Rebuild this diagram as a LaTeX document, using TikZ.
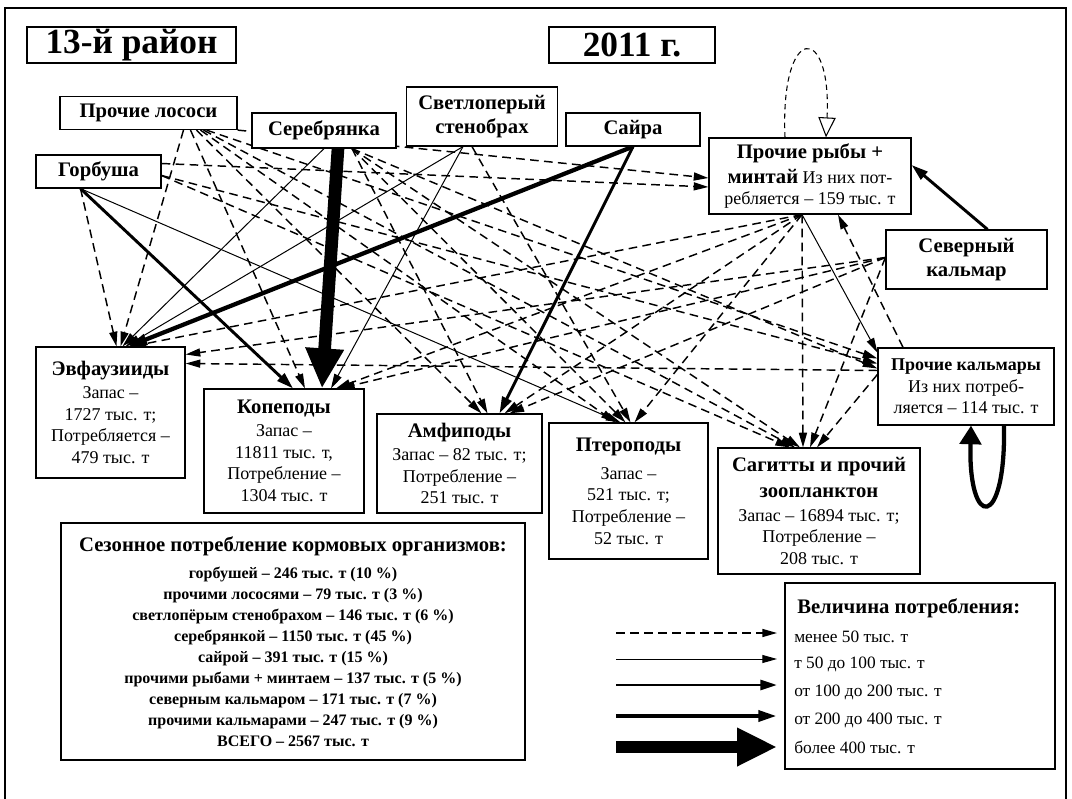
\documentclass[tikz,border=0pt]{standalone}
\usepackage{fontspec}
\setmainfont{Liberation Serif}
\usetikzlibrary{arrows.meta,calc,backgrounds}

\newlength{\pxu}
\setlength{\pxu}{0.75pt}
\newcommand{\hdfont}{\fontsize{26.5}{30}\selectfont\bfseries}
\newcommand{\nmfont}{\fontsize{15.5}{18}\selectfont\bfseries}
\newcommand{\bdfont}{\fontsize{13.5}{16.2}\selectfont}
\newcommand{\smfont}{\fontsize{12}{15.75}\selectfont\bfseries}
\newcommand{\kyfont}{\fontsize{13}{15}\selectfont}

\tikzset{
  box/.style={draw, line width=0.9pt, fill=white, align=center, inner sep=2pt},
  d50/.style={dash pattern=on 6.5pt off 4pt, line width=1.1pt, -{Triangle[length=11pt,width=6pt]}},
  s100/.style={line width=0.75pt, -{Triangle[length=11pt,width=6pt]}},
  s200/.style={line width=2.2pt, -{Triangle[length=12.5pt,width=7.5pt]}},
  s400/.style={line width=3.2pt, -{Triangle[length=14pt,width=8pt]}},
  s800/.style={line width=9.5pt, -{Triangle[length=30pt,width=27pt]}},
  selfloop/.style={dash pattern=on 4pt off 3pt, line width=0.8pt, -{Triangle[open,length=15pt,width=13pt]}},
  bigloop/.style={line width=3.2pt, -{Triangle[length=14pt,width=16pt]}},
}

\begin{document}
\begin{tikzpicture}[x=0.75pt,y=-0.75pt]
\useasboundingbox (0,0) rectangle (1072,799);
\clip (0,0) rectangle (1072,799);

% frame
\draw[line width=0.8pt] (5,805) -- (5,8) -- (1066,8) -- (1066,805);

% titles
\node[box, font=\hdfont, inner sep=1pt, minimum width=209\pxu, minimum height=36\pxu] (district) at (131.5,45) {13-й район};
\node[box, font=\hdfont, inner sep=1pt, minimum width=166\pxu, minimum height=36\pxu] (year) at (632,45) {2011 г.};

% consumers
\node[box, font=\nmfont, minimum width=177\pxu, minimum height=33\pxu] (pl) at (148.5,113) {Прочие лососи};
\node[box, font=\nmfont, minimum width=144\pxu, minimum height=35\pxu] (sr) at (324,130.5) {Серебрянка};
\node[box, font=\nmfont, minimum width=151\pxu, minimum height=59\pxu] (sv) at (482,116.5) {Светлоперый\\ стенобрах};
\node[box, font=\nmfont, minimum width=134\pxu, minimum height=33\pxu] (sa) at (633,129.5) {Сайра};
\node[box, font=\nmfont, minimum width=125\pxu, minimum height=33\pxu] (gb) at (98.5,171.5) {Горбуша};
\node[box, font=\bdfont, minimum width=202\pxu, minimum height=76\pxu] (pr) at (810,176)
  {{\nmfont Прочие рыбы +}\\[2.5pt] {\nmfont минтай} Из них пот-\\ ребляется – 159 тыс. т};
\node[box, font=\nmfont, minimum width=161\pxu, minimum height=59\pxu] (sk) at (966.5,259.5) {Северный\\ кальмар};
\node[box, font=\bdfont, minimum width=176\pxu, minimum height=77\pxu] (pk) at (966,386.5)
  {{\bfseries Прочие кальмары}\\ Из них потреб-\\ ляется – 114 тыс. т};

% food items
\node[box, font=\bdfont, minimum width=149\pxu, minimum height=131\pxu] (ev) at (110.5,412.5)
  {{\nmfont Эвфаузииды}\\[1pt] Запас –\\ 1727 тыс. т;\\ Потребляется –\\ 479 тыс. т};
\node[box, font=\bdfont, minimum width=160\pxu, minimum height=124\pxu] (ko) at (284,451)
  {{\nmfont Копеподы}\\[1pt] Запас –\\ 11811 тыс. т,\\ Потребление –\\ 1304 тыс. т};
\node[box, font=\bdfont, minimum width=165\pxu, minimum height=99\pxu] (am) at (459.5,463.5)
  {{\nmfont Амфиподы}\\[1pt] Запас – 82 тыс. т;\\ Потребление –\\ 251 тыс. т};
\node[box, font=\bdfont, minimum width=159\pxu, minimum height=136\pxu] (pt) at (628.5,491)
  {{\nmfont Птероподы}\\[5pt] Запас –\\ 521 тыс. т;\\ Потребление –\\ 52 тыс. т};
\node[box, font=\bdfont, minimum width=202\pxu, minimum height=126\pxu] (sg) at (819,511)
  {{\nmfont Сагитты и прочий}\\[3pt] {\nmfont зоопланктон}\\[2pt] Запас – 16894 тыс. т;\\ Потребление –\\ 208 тыс. т};

% summary
\node[box, font=\smfont, minimum width=464\pxu, minimum height=237\pxu] (summary) at (293,641.5)
  {{\nmfont Сезонное потребление кормовых организмов:}\\[4.5pt]
   горбушей – 246 тыс. т (10 \%)\\
   прочими лососями – 79 тыс. т (3 \%)\\
   светлопёрым стенобрахом – 146 тыс. т (6 \%)\\
   серебрянкой – 1150 тыс. т (45 \%)\\
   сайрой – 391 тыс. т (15 \%)\\
   прочими рыбами + минтаем – 137 тыс. т (5 \%)\\
   северным кальмаром – 171 тыс. т (7 \%)\\
   прочими кальмарами – 247 тыс. т (9 \%)\\
   ВСЕГО – 2567 тыс. т};

% legend
\node[box, minimum width=270\pxu, minimum height=186\pxu] (legend) at (920,676) {};
\node[font=\nmfont, anchor=west, inner sep=0pt] (legtitle) at (797,608) {Величина потребления:};
\node[font=\kyfont, anchor=west, inner sep=0pt] (lg1) at (794,637) {менее 50 тыс. т};
\node[font=\kyfont, anchor=west, inner sep=0pt] (lg2) at (794,664) {т 50 до 100 тыс. т};
\node[font=\kyfont, anchor=west, inner sep=0pt] (lg3) at (794,692) {от 100 до 200 тыс. т};
\node[font=\kyfont, anchor=west, inner sep=0pt] (lg4) at (794,720) {от 200 до 400 тыс. т};
\node[font=\kyfont, anchor=west, inner sep=0pt] (lg5) at (794,747) {более 400 тыс. т};
\draw[d50] ($(lg1.west)+(-178,-4)$) -- ($(lg1.west)+(-17,-4)$);
\draw[s100] ($(lg2.west)+(-178,-5)$) -- ($(lg2.west)+(-17,-5)$);
\draw[s200] ($(lg3.west)+(-178,-7)$) -- ($(lg3.west)+(-17,-7)$);
\draw[s400] ($(lg4.west)+(-178,-4)$) -- ($(lg4.west)+(-17,-4)$);
\draw[s800] ($(lg5.west)+(-178,0)$) -- ($(lg5.west)+(-17,0)$);

\begin{scope}[on background layer]
% Горбуша
\draw[d50] ($(gb.south)+(-18,0)$) -- ($(ev.north)+(6,0)$);
\draw[s200] ($(gb.south)+(-18,0)$) -- ($(ko.north)+(9,0)$);
\draw[s100] ($(gb.south)+(-18,0)$) -- ($(pt.north)+(-8,0)$);
\draw[d50] ($(gb.east)+(0,-8)$) -- ($(pr.west)+(0,11)$);
\draw[d50] ($(gb.east)+(0,4)$) -- ($(pk.west)+(0,-23)$);
\draw[d50] ($(gb.east)+(0,4)$) -- ($(sg.north)+(-29,0)$);
% Прочие лососи
\draw[d50] ($(pl.south)+(35,0)$) -- ($(ev.north)+(10,0)$);
\draw[d50] ($(pl.south)+(42,0)$) -- ($(ko.north)+(21,0)$);
\draw[d50] ($(pl.south)+(48,0)$) -- ($(am.north)+(22,0)$);
\draw[d50] ($(pl.south)+(52,0)$) -- ($(pt.north)+(-13,0)$);
\draw[d50] ($(pl.south)+(55,0)$) -- ($(sg.north)+(-24,0)$);
\draw[d50] ($(pl.south)+(58,0)$) -- ($(pk.west)+(0,-28)$);
\draw[d50] (pl.south east) -- ($(pr.west)+(0,2)$);
% Серебрянка
\draw[s100] (sr.south) -- ($(ev.north)+(12,0)$);
\draw[s800] ($(sr.south)+(14,0)$) -- ($(ko.north)+(38,0)$);
\draw[d50] ($(sr.south)+(28,0)$) -- ($(am.north)+(28,0)$);
\draw[d50] ($(sr.south)+(28,0)$) -- ($(pt.north)+(-3,0)$);
\draw[d50] ($(sr.south)+(28,0)$) -- ($(sg.north)+(-19,0)$);
\draw[d50] ($(sr.south)+(28,0)$) -- ($(pk.west)+(0,-18)$);
% Светлоперый стенобрах
\draw[s100] ($(sv.south)+(-19,0)$) -- ($(ev.north)+(15,0)$);
\draw[s100] ($(sv.south)+(-19,0)$) -- ($(ko.north)+(47,0)$);
\draw[d50] ($(sv.south)+(-10,0)$) -- ($(pt.north)+(2,0)$);
% Сайра
\draw[s400] (sa.south) -- ($(ev.north)+(18,0)$);
\draw[s200] (sa.south) -- ($(am.north)+(40,0)$);
% Прочие рыбы + минтай
\draw[d50] ($(pr.south)+(-8,0)$) -- ($(ev.north)+(21,0)$);
\draw[d50] ($(pr.south)+(-8,0)$) -- ($(ko.north)+(52,0)$);
\draw[d50] ($(pr.south)+(-8,0)$) -- ($(am.north)+(45,0)$);
\draw[d50] ($(pr.south)+(-8,0)$) -- ($(pt.north)+(6,0)$);
\draw[d50] ($(pr.south)+(-8,0)$) -- ($(sg.north)+(-16,0)$);
\draw[s100] ($(pr.south)+(-8,0)$) -- ($(pk.west)+(0,-34)$);
\draw[selfloop] ($(pr.north)+(-25,0)$) .. controls +(-5,-115) and +(6,-115) .. ($(pr.north)+(16,0)$);
% Северный кальмар
\draw[s200] ($(sk.north)+(21,0)$) -- ($(pr.east)+(0,-11)$);
\draw[d50] ($(sk.west)+(0,-2)$) -- ($(ev.east)+(0,-58)$);
\draw[d50] ($(sk.west)+(0,-2)$) -- ($(ko.north)+(56,0)$);
\draw[d50] ($(sk.west)+(0,-2)$) -- ($(am.north)+(50,0)$);
\draw[d50] ($(sk.west)+(0,-2)$) -- ($(sg.north)+(-9,0)$);
% Прочие кальмары
\draw[d50] ($(pk.north)+(-63,0)$) -- ($(pr.south)+(28,0)$);
\draw[d50] ($(pk.west)+(0,-16)$) -- ($(ev.east)+(0,-49)$);
\draw[d50] ($(pk.west)+(0,-12)$) -- ($(sg.north)+(-2,0)$);
\draw[bigloop] ($(pk.south)+(38,0)$) .. controls +(2,105) and +(-3,105) .. ($(pk.south)+(5,0)$);
\end{scope}

\end{tikzpicture}
\end{document}
